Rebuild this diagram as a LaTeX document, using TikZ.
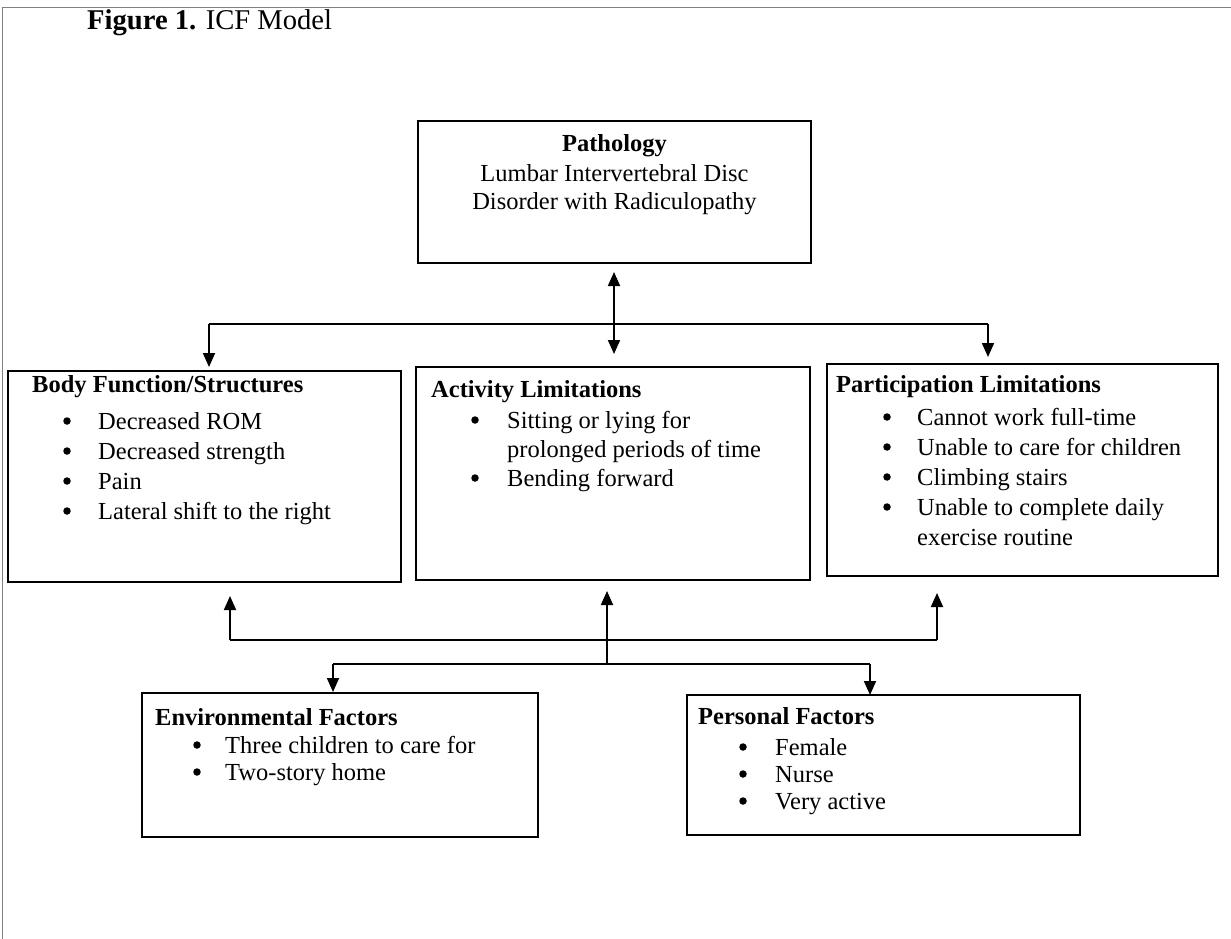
\documentclass[tikz,border=0pt]{standalone}
\usepackage{fontspec}
\setmainfont{Liberation Serif}
\usetikzlibrary{arrows.meta}
\tikzset{
  box/.style={draw=black, line width=1.8pt, anchor=north west, inner sep=0pt, outer sep=0pt},
  txt/.style={anchor=base west, inner sep=0pt, font=\fontsize{24.5}{28}\selectfont},
  hd/.style={anchor=base west, inner sep=0pt, font=\fontsize{24.5}{28}\selectfont\bfseries},
  ctr/.style={anchor=base, inner sep=0pt, font=\fontsize{24.5}{28}\selectfont},
  dot/.style={circle, fill=black, inner sep=0pt, minimum size=7.5pt},
  wire/.style={line width=1.8pt},
  conn/.style={line width=1.8pt, -{Triangle[length=14pt,width=12pt]}},
  dconn/.style={line width=1.8pt, {Triangle[length=14pt,width=12pt]}-{Triangle[length=14pt,width=12pt]}},
}
\begin{document}
\begin{tikzpicture}[x=1pt,y=-1pt]
\useasboundingbox (0,0) rectangle (1231,939);
% page frame
\draw[gray, line width=1pt] (2,939) -- (2,8) -- (1231,8);
% title
\node[anchor=base west, inner sep=0pt, font=\fontsize{28.6}{33}\selectfont] (title) at (87,30) {\textbf{Figure 1.} ICF Model};

% boxes
\node[box, minimum width=393pt, minimum height=142pt] (path) at (418,121) {};
\node[box, minimum width=393pt, minimum height=211pt] (body) at (8,371) {};
\node[box, minimum width=394pt, minimum height=213pt] (act) at (416,367) {};
\node[box, minimum width=391pt, minimum height=212pt] (part) at (827,364) {};
\node[box, minimum width=396pt, minimum height=144pt] (env) at (142,693) {};
\node[box, minimum width=393pt, minimum height=140pt] (pers) at (687,695) {};

% pathology text
\node[ctr, font=\fontsize{24.5}{28}\selectfont\bfseries] (p1) at (614.5,152) {Pathology};
\node[ctr] (p2) at (614.5,181) {Lumbar Intervertebral Disc};
\node[ctr] (p3) at (614.5,209) {Disorder with Radiculopathy};

% body function
\node[hd] (bh) at (32,392) {Body Function/Structures};
\node[dot] (bb1) at (67,421) {};
\node[txt] (bt1) at (98,429) {Decreased ROM};
\node[dot] (bb2) at (67,451) {};
\node[txt] (bt2) at (98,459) {Decreased strength};
\node[dot] (bb3) at (67,481) {};
\node[txt] (bt3) at (98,489) {Pain};
\node[dot] (bb4) at (67,511) {};
\node[txt] (bt4) at (98,519) {Lateral shift to the right};

% activity
\node[hd] (ah) at (431,397) {Activity Limitations};
\node[dot] (ab1) at (475,420) {};
\node[txt] (at1) at (507,428) {Sitting or lying for};
\node[txt] (at1b) at (507,457) {prolonged periods of time};
\node[dot] (ab2) at (475,478) {};
\node[txt] (at2) at (507,486) {Bending forward};

% participation
\node[hd] (ph) at (836,392) {Participation Limitations};
\node[dot] (pb1) at (887,417) {};
\node[txt] (pt1) at (917,425) {Cannot work full-time};
\node[dot] (pb2) at (887,447) {};
\node[txt] (pt2) at (917,455) {Unable to care for children};
\node[dot] (pb3) at (887,477) {};
\node[txt] (pt3) at (917,485) {Climbing stairs};
\node[dot] (pb4) at (887,507) {};
\node[txt] (pt4) at (917,515) {Unable to complete daily};
\node[txt] (pt4b) at (917,545) {exercise routine};

% environmental
\node[hd] (eh) at (155,725) {Environmental Factors};
\node[dot] (eb1) at (197,745) {};
\node[txt] (et1) at (225,753) {Three children to care for};
\node[dot] (eb2) at (197,772) {};
\node[txt] (et2) at (225,780) {Two-story home};

% personal
\node[hd] (rh) at (698,724) {Personal Factors};
\node[dot] (rb1) at (743,747) {};
\node[txt] (rt1) at (775,755) {Female};
\node[dot] (rb2) at (743,774) {};
\node[txt] (rt2) at (775,782) {Nurse};
\node[dot] (rb3) at (743,801) {};
\node[txt] (rt3) at (775,809) {Very active};

% upper connectors
\coordinate (dA) at (614,272);
\coordinate (dB) at (614,354);
\draw[dconn] (dA) -- (dB);
\coordinate (busL) at (209,324);
\coordinate (busR) at (988,324);
\draw[wire] (busL) -- (busR);
\draw[conn, shorten >=4pt] (busL) -- (body.north -| busL);
\draw[conn, shorten >=7pt] (busR) -- (part.north -| busR);

% lower connectors
\coordinate (upL) at (230,640);
\coordinate (upR) at (937,640);
\coordinate (mid) at (607,664);
\coordinate (lowL) at (333,664);
\coordinate (lowR) at (870,664);
\draw[wire] (upL) -- (upR);
\draw[conn, shorten >=14pt] (upL) -- (body.south -| upL);
\draw[conn, shorten >=11pt] (mid) -- (act.south -| mid);
\draw[conn, shorten >=17pt] (upR) -- (part.south -| upR);
\draw[wire] (lowL) -- (lowR);
\draw[conn, shorten >=1pt] (lowL) -- (env.north -| lowL);
\draw[conn] (lowR) -- (pers.north -| lowR);
\end{tikzpicture}
\end{document}
